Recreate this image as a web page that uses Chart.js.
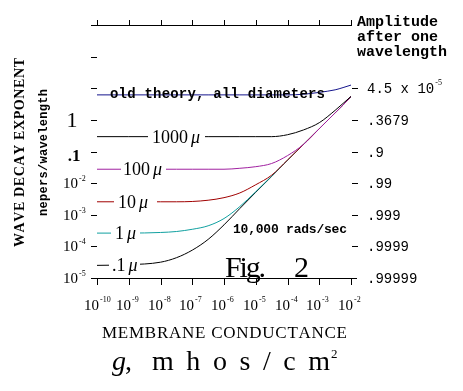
<!DOCTYPE html>
<html>
<head>
<meta charset="utf-8">
<script src="https://cdn.jsdelivr.net/npm/chart.js@4"></script>
<style>
  html, body { margin: 0; padding: 0; background: #fff; }
  canvas { display: block; }
</style>
</head>
<body>
<canvas id="chart" width="463" height="391"></canvas>
<script>
// membrane conductance g (mhos/cm2) where the curves were read
const conductance = [1e-10, 1e-9, 1e-8, 3.16e-8, 1e-7, 3.16e-7, 1e-6, 3.16e-6, 1e-5, 3.16e-5, 1e-4, 3.16e-4, 1e-3, 3.16e-3, 5.62e-3, 1e-2];

// wave decay exponent, nepers/wavelength
const oldTheory = [6.17, 6.17, 6.17, 6.17, 6.17, 6.17, 6.17, 6.17, 6.17, 6.17, 6.17, 6.46, 7.41, 8.91, 10.5, 12.6];
const dia1000 = [0.295, 0.295, 0.295, 0.295, 0.295, 0.295, 0.295, 0.295, 0.295, 0.295, 0.339, 0.479, 0.813, 2.0, 3.31, 5.5];
const dia100 = [0.0275, 0.0275, 0.0275, 0.0275, 0.0275, 0.0275, 0.0275, 0.0295, 0.0331, 0.0417, 0.0741, 0.166, 0.525, 1.66, 2.95, 5.5];
const dia10 = [0.00257, 0.00257, 0.00257, 0.00257, 0.00263, 0.00288, 0.00347, 0.0049, 0.0089, 0.0178, 0.0537, 0.166, 0.525, 1.66, 2.95, 5.5];
const dia1 = [2.63e-4, 2.63e-4, 2.75e-4, 2.95e-4, 3.47e-4, 4.47e-4, 7.59e-4, 1.82e-3, 5.37e-3, 0.0166, 0.0525, 0.166, 0.525, 1.66, 2.95, 5.5];
const dia01 = [2.51e-5, 2.63e-5, 3.16e-5, 4.37e-5, 7.59e-5, 1.66e-4, 4.79e-4, 1.58e-3, 5.13e-3, 0.0162, 0.0525, 0.166, 0.525, 1.66, 2.95, 5.5];

const seriesNames = ['old theory, all diameters', '1000', '100', '10', '1', '.1'];

// tick decades (exponents of 10)
const xTickExps = [-10, -9, -8, -7, -6, -5, -4, -3, -2];
const yTickExps = [-5, -4, -3, -2, -1, 0, 1, 2, 3];
const leftLabels = ['10|-5', '10|-4', '10|-3', '10|-2', '.1', '1'];
const amplitudeLabels = ['.99999', '.9999', '.999', '.99', '.9', '.3679', '4.5 x 10|-5'];

function points(vals) {
    return conductance.map((g, i) => ({ x: g, y: vals[i] }));
}

function spaced(ctx, text, x, y, width) {
    const chars = [...text];
    const ws = chars.map(c => ctx.measureText(c).width);
    const natural = ws.reduce((s, w) => s + w, 0);
    const gap = chars.length > 1 ? (width - natural) / (chars.length - 1) : 0;
    let cx = x;
    chars.forEach((c, i) => {
        ctx.fillText(c, cx, y);
        cx += ws[i] + gap;
    });
}

const SERIF = '"Liberation Serif", "DejaVu Serif", serif';
const MONO = '"Liberation Mono", "DejaVu Sans Mono", monospace';

const paperAxes = {
    id: 'paperAxes',
    afterDatasetsDraw(chart) {
        const ctx = chart.ctx;
        const xs = chart.scales.x;
        const ys = chart.scales.y;
        const L = Math.round(chart.chartArea.left);
        const R = Math.round(chart.chartArea.right);
        const T = Math.round(chart.chartArea.top);
        const B = Math.round(chart.chartArea.bottom);
        const xp = e => Math.round(xs.getPixelForValue(Math.pow(10, e)));
        const yp = e => Math.round(ys.getPixelForValue(Math.pow(10, e)));

        ctx.save();
        ctx.strokeStyle = '#000';
        ctx.lineWidth = 1;
        const hline = (x1, x2, y) => { ctx.beginPath(); ctx.moveTo(x1, y + 0.5); ctx.lineTo(x2, y + 0.5); ctx.stroke(); };
        const vline = (x, y1, y2) => { ctx.beginPath(); ctx.moveTo(x + 0.5, y1); ctx.lineTo(x + 0.5, y2); ctx.stroke(); };

        // diameter labels sitting in gaps of their curves
        const dias = [
            { vals: dia1000, name: seriesNames[1], gap: [148, 205], tx: 152 },
            { vals: dia100, name: seriesNames[2], gap: [121, 166], tx: 123 },
            { vals: dia10, name: seriesNames[3], gap: [114, 157], tx: 118 },
            { vals: dia1, name: seriesNames[4], gap: [111, 140], tx: 115 },
            { vals: dia01, name: seriesNames[5], gap: [109, 140], tx: 112 }
        ];
        dias.forEach(d => {
            const y = Math.round(ys.getPixelForValue(d.vals[0]));
            ctx.fillStyle = '#fff';
            ctx.fillRect(d.gap[0], y - 3, d.gap[1] - d.gap[0], 7);
            ctx.fillStyle = '#000';
            ctx.textAlign = 'left';
            ctx.textBaseline = 'middle';
            ctx.font = '18px ' + SERIF;
            ctx.fillText(d.name, d.tx, y + 1);
            const w = ctx.measureText(d.name).width;
            ctx.font = 'italic 18px ' + SERIF;
            ctx.fillText('\u03bc', d.tx + w + 3, y + 1);
        });

        ctx.fillStyle = '#000';
        ctx.textAlign = 'left';
        ctx.textBaseline = 'middle';
        ctx.font = 'bold 14px ' + MONO;
        spaced(ctx, seriesNames[0], 110, Math.round(ys.getPixelForValue(oldTheory[0])) - 1, 215);

        ctx.font = 'bold 13px ' + MONO;
        spaced(ctx, '10,000 rads/sec', 233, 230, 114);

        ctx.textBaseline = 'alphabetic';
        ctx.font = '30px ' + SERIF;
        spaced(ctx, 'Fig.', 225, 277, 41);
        ctx.fillText('2', 294, 277);

        // frame lines and ticks
        hline(L - 6, R + 6, B);
        hline(L - 6, R + 1, T);
        xTickExps.forEach(e => {
            const px = Math.min(xp(e), R);
            vline(px, T - 5, T);
            vline(px, B, B + 7);
        });
        yTickExps.forEach(e => {
            const py = yp(e);
            if (py <= T || py >= B) return;
            hline(L - 6, L, py);
            if (e <= 1) hline(R + 1, R + 7, py);
        });

        // bottom tick labels
        xTickExps.forEach(e => {
            const px = xp(e);
            ctx.textBaseline = 'middle';
            ctx.font = '15px ' + SERIF;
            ctx.textAlign = 'right';
            ctx.fillText('10', px + 2, 306);
            ctx.font = '8px ' + SERIF;
            ctx.textAlign = 'left';
            ctx.fillText(String(e), px + 3, 300);
        });

        // left tick labels
        leftLabels.forEach((lab, i) => {
            const py = yp(yTickExps[i]);
            const [base, sup] = lab.split('|');
            ctx.textBaseline = 'middle';
            if (sup) {
                ctx.font = '15px ' + SERIF;
                ctx.textAlign = 'right';
                ctx.fillText(base, 78, py + 1);
                ctx.font = '8px ' + SERIF;
                ctx.textAlign = 'left';
                ctx.fillText(sup, 79, py - 4);
            } else if (base === '1') {
                ctx.font = '22px ' + SERIF;
                ctx.textAlign = 'center';
                ctx.fillText(base, 72, py + 1);
            } else {
                ctx.font = 'bold 17px ' + SERIF;
                ctx.textAlign = 'center';
                ctx.fillText(base, 74, py + 5);
            }
        });

        // right amplitude labels
        amplitudeLabels.forEach((lab, i) => {
            const py = yp(yTickExps[i]);
            const [base, sup] = lab.split('|');
            ctx.textBaseline = 'middle';
            ctx.textAlign = 'left';
            ctx.font = '14px ' + MONO;
            ctx.fillText(base, 367, py + 1);
            if (sup) {
                const w = ctx.measureText(base).width;
                ctx.font = '8px ' + SERIF;
                ctx.fillText(sup, 367 + w + 1, py - 5);
            }
        });

        ctx.font = 'bold 15px ' + MONO;
        ctx.textAlign = 'left';
        ctx.fillText('Amplitude', 357, 22);
        ctx.fillText('after one', 357, 37);
        ctx.fillText('wavelength', 357, 52);

        // axis titles
        ctx.font = '17px ' + SERIF;
        spaced(ctx, 'MEMBRANE CONDUCTANCE', 102, 334, 245);

        ctx.textBaseline = 'alphabetic';
        ctx.font = 'italic 28px ' + SERIF;
        ctx.fillText('g', 112, 370);
        ctx.font = '28px ' + SERIF;
        ctx.fillText(',', 125, 370);
        spaced(ctx, 'mhos/cm', 152, 370, 178);
        ctx.font = '13px ' + SERIF;
        ctx.fillText('2', 331, 358);

        ctx.save();
        ctx.translate(20, 153);
        ctx.rotate(-Math.PI / 2);
        ctx.textBaseline = 'middle';
        ctx.font = 'bold 14px ' + SERIF;
        spaced(ctx, 'WAVE DECAY EXPONENT', -94, 0, 189);
        ctx.restore();

        ctx.save();
        ctx.translate(44, 153);
        ctx.rotate(-Math.PI / 2);
        ctx.textBaseline = 'middle';
        ctx.font = 'bold 12px ' + MONO;
        spaced(ctx, 'nepers/wavelength', -63, 0, 127);
        ctx.restore();

        ctx.restore();
    }
};

function line(label, vals, color) {
    return {
        label: label,
        data: points(vals),
        borderColor: color,
        borderWidth: 1,
        pointRadius: 0,
        fill: false,
        cubicInterpolationMode: 'monotone'
    };
}

new Chart(document.getElementById('chart'), {
    type: 'line',
    data: {
        datasets: [
            line(seriesNames[0], oldTheory, '#14148c'),
            line(seriesNames[1], dia1000, '#000000'),
            line(seriesNames[2], dia100, '#a020a0'),
            line(seriesNames[3], dia10, '#a00000'),
            line(seriesNames[4], dia1, '#10a0a0'),
            line(seriesNames[5], dia01, '#000000')
        ]
    },
    options: {
        responsive: false,
        animation: false,
        devicePixelRatio: 1,
        layout: { padding: { left: 97, right: 112, top: 25, bottom: 113 } },
        scales: {
            x: { type: 'logarithmic', min: 1e-10, max: 1e-2, display: false },
            y: { type: 'logarithmic', min: 1e-5, max: 1e3, display: false }
        },
        plugins: {
            legend: { display: false },
            tooltip: { enabled: false }
        }
    },
    plugins: [paperAxes]
});
</script>
</body>
</html>
